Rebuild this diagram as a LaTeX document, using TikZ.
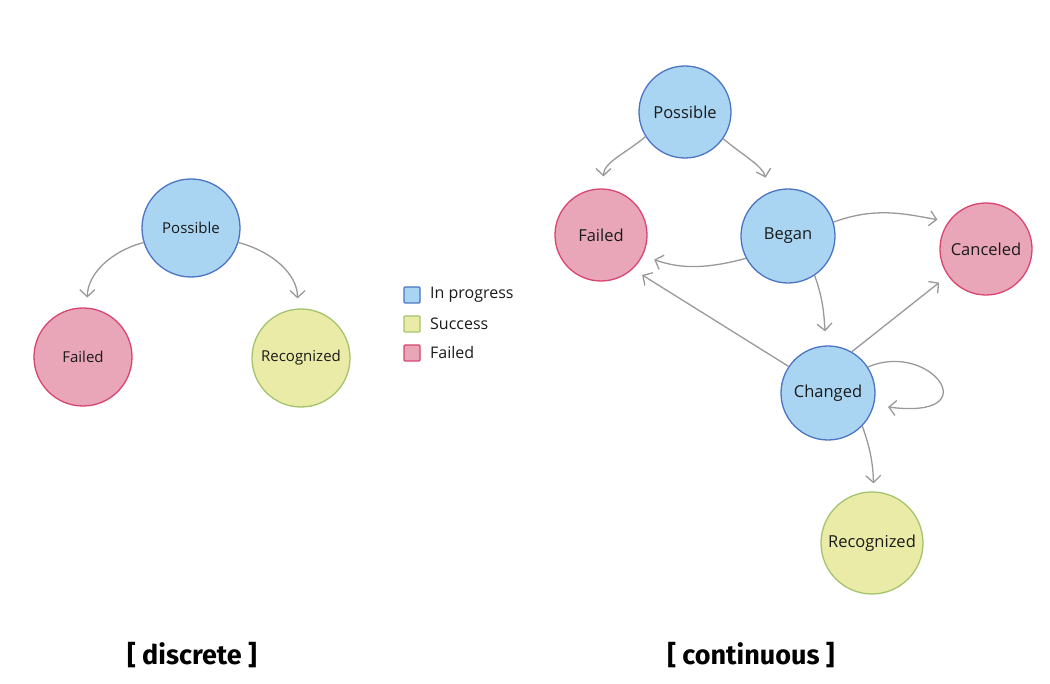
\documentclass[tikz,border=0pt]{standalone}
\usepackage{fontspec}
\setmainfont{Open Sans}
\newfontfamily\labfont{Fira Sans}
\usetikzlibrary{arrows.meta}
\definecolor{bfill}{HTML}{A9D5F2}
\definecolor{bdraw}{HTML}{4C74C4}
\definecolor{pfill}{HTML}{E8A6B8}
\definecolor{pdraw}{HTML}{D94570}
\definecolor{yfill}{HTML}{EAEBA7}
\definecolor{ydraw}{HTML}{A3C46C}
\definecolor{agray}{HTML}{999999}
\definecolor{txt}{HTML}{1A1A1A}
\begin{document}
\begin{tikzpicture}[x=1pt,y=-1pt,
  st/.style={circle, inner sep=0pt, line width=1.3pt, text=txt},
  prog/.style={st, fill=bfill, draw=bdraw},
  succ/.style={st, fill=yfill, draw=ydraw},
  fail/.style={st, fill=pfill, draw=pdraw},
  lft/.style={font=\fontsize{15}{17}\selectfont, minimum size=98pt},
  rgt/.style={font=\fontsize{16.5}{18}\selectfont, minimum size=92pt},
  arr/.style={draw=agray, line width=1.3pt, -{Straight Barb[length=7pt,width=15pt,line width=1.3pt]}},
  leg/.style={rectangle, minimum size=16pt, inner sep=0pt, line width=1.2pt, rounded corners=1pt},
  legt/.style={anchor=west, inner sep=0pt, font=\fontsize{16}{18}\selectfont, text=txt},
  captxt/.style={font=\labfont\bfseries\fontsize{27}{30}\selectfont, text=black, inner sep=0pt}
]
\useasboundingbox (0,0) rectangle (1050,684);

% left diagram
\node[prog, lft] (LP) at (191,228) {Possible};
\node[fail, lft] (LF) at (83,357) {Failed};
\node[succ, lft] (LR) at (301,358) {Recognized};
\draw[arr, shorten >=10pt] (LP.197) to[out=195, in=90] (LF.85);
\draw[arr, shorten >=10pt] (LP.-17) to[out=-15, in=90] (LR.94);

% legend
\node[leg, fill=bfill, draw=bdraw] (K1) at (412,295) {};
\node[leg, fill=yfill, draw=ydraw] (K2) at (412,324) {};
\node[leg, fill=pfill, draw=pdraw] (K3) at (412,353) {};
\node[legt] (T1) at (430,295) {In progress};
\node[legt] (T2) at (430,324) {Success};
\node[legt] (T3) at (430,353) {Failed};

% right diagram
\node[prog, rgt] (RP) at (685,112) {Possible};
\node[fail, rgt] (RF) at (601,235) {Failed};
\node[prog, rgt, minimum size=94pt] (RB) at (788,236) {Began};
\node[fail, rgt] (RC) at (986,249) {Canceled};
\node[prog, rgt, minimum size=94pt] (RH) at (828,393) {Changed};
\node[succ, rgt, minimum size=102pt] (RR) at (872,543) {Recognized};

\draw[arr, shorten >=12pt] (RP.212) to[out=220, in=90] (RF.87);
\draw[arr, shorten >=15pt] (RP.325) to[out=-40, in=105] (RB.113);
\draw[arr, shorten >=11pt] (RB.17) to[out=20, in=170] (RC.144);
\draw[arr, shorten >=12pt] (RB.208) to[out=195, in=-20] (RF.-26);
\draw[arr, shorten >=11pt] (RH.146) -- (RF.-47);
\draw[arr, shorten >=11pt] (RH.60) -- (RC.215.6);
\draw[arr, shorten >=14pt] (RB.304) to[out=-70, in=95] (RH.92);
\draw[arr] (RH.33) .. controls (930,340) and (990,420) .. (888,407);
\draw[arr, shorten >=8pt] (RH.316) to[out=-70, in=92] (RR.88);

% captions
\node[captxt] (C1) at (192,655) {[ discrete ]};
\node[captxt] (C2) at (751,655) {[ continuous ]};
\end{tikzpicture}
\end{document}
